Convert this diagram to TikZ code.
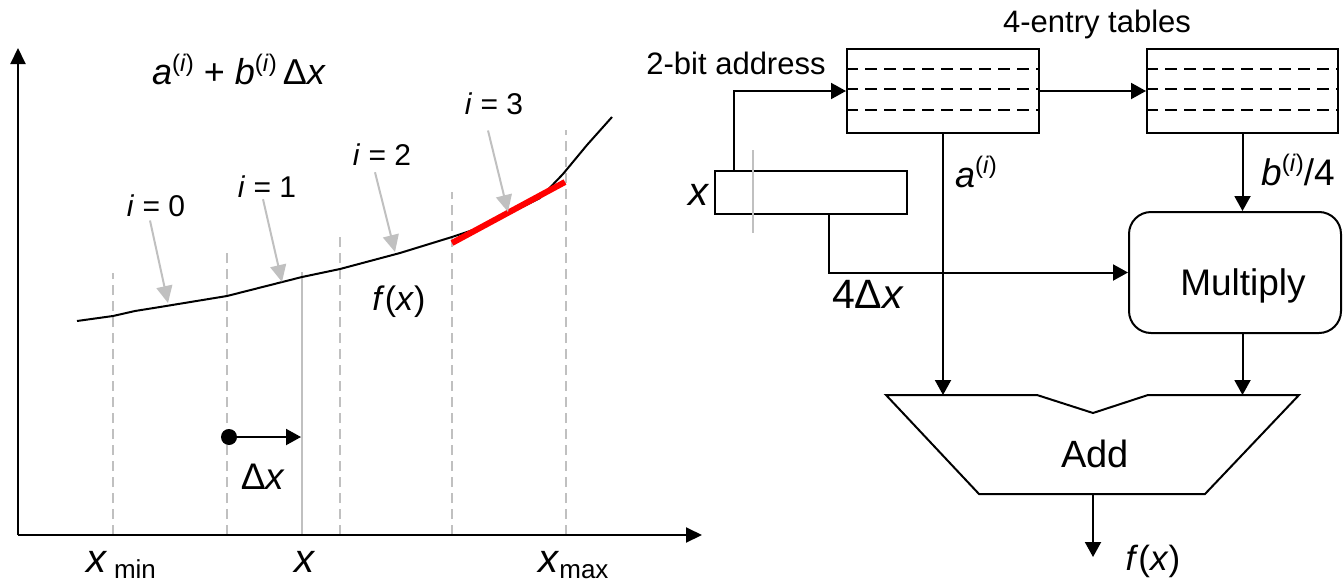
\documentclass[tikz,border=0pt]{standalone}
\usepackage{fontspec}
\setmainfont{Liberation Sans}
\usetikzlibrary{arrows.meta,calc}
\newcommand\fsz[1]{\fontsize{#1}{#1}\selectfont}
\newcommand\supi[2]{\raisebox{#1}{\fsz{#2}(\textit{i})}}
\definecolor{lgray}{RGB}{192,192,192}
\definecolor{myred}{RGB}{255,0,0}
\begin{document}
\begin{tikzpicture}[x=1pt,y=-1pt,
  ln/.style={line width=2pt},
  arr/.style={line width=2pt,-{Triangle[length=15pt,width=16pt]}},
  axarr/.style={line width=2pt,-{Triangle[length=16pt,width=15pt]}},
  garr/.style={line width=2pt,draw=lgray,-{Triangle[length=17pt,width=16pt,fill=lgray]}},
  gdash/.style={line width=2pt,draw=lgray,dash pattern=on 10pt off 6pt},
  tdash/.style={line width=2pt,dash pattern=on 12pt off 7pt},
  lbl/.style={inner sep=0pt,anchor=base},
  tbl/.style={draw,line width=2pt,minimum width=192pt,minimum height=84pt,inner sep=0pt},
  line join=miter]
\useasboundingbox (0,0) rectangle (1343,581);

% ---------------- left graph ----------------
\coordinate (orig) at (18,535);
\coordinate (ytip) at (18,48);
\coordinate (xtip) at (702,535);
% dashed verticals
\draw[gdash] (113,535) -- (113,273);
\draw[gdash] (227,535) -- (227,252);
\draw[gdash] (340,535) -- (340,232);
\draw[gdash] (452,535) -- (452,192);
\draw[gdash] (566,535) -- (566,130);
\draw[line width=2pt,draw=lgray] (302,535) -- (302,272);
% curve
\draw[line width=2pt,line join=round] (77,321) -- (113,316) -- (135,311) -- (160,307) -- (227,296) -- (302,277) -- (340,269) -- (400,253) -- (452,237) -- (485,226) -- (510,213) -- (540,198) -- (563,174) -- (587,145) -- (612,117);
\draw[line width=6pt,draw=myred] (452,243) -- (565,182);
% axes
\draw[axarr] (orig) -- (ytip);
\draw[axarr] (orig) -- (xtip);

\node[lbl] (formula) at (239,84) {\fsz{36}\textit{a}\supi{13pt}{24} + \textit{b}\supi{13pt}{24}\,Δ\textit{x}};

\node[lbl] (l0) at (156,216) {\fsz{30}\textit{i} = 0};
\node[lbl] (l1) at (267,197) {\fsz{30}\textit{i} = 1};
\node[lbl] (l2) at (382,165) {\fsz{30}\textit{i} = 2};
\node[lbl] (l3) at (494,114) {\fsz{30}\textit{i} = 3};
\coordinate (p0) at (168,303);
\coordinate (p1) at (282,282);
\coordinate (p2) at (395,252);
\coordinate (p3) at (508,212);
\draw[garr] ($(l0.south)+(-6,4)$) -- (p0);
\draw[garr] ($(l1.south)+(-4,2)$) -- (p1);
\draw[garr] ($(l2.south)+(-7,7)$) -- (p2);
\draw[garr] ($(l3.south)+(-6,16)$) -- (p3);

\node[lbl] (fxl) at (399,310) {\fsz{34}\textit{f}(\textit{x})};

\node[circle,fill,minimum size=16pt,inner sep=0pt] (dot) at (229,437) {};
\coordinate (dxend) at (301,437);
\draw[arr] (dot) -- (dxend);
\node[lbl] (dxl) at (263,489) {\fsz{37}Δ\textit{x}};

\node[lbl,anchor=base west] (xmin) at (86,572) {\fsz{40}\textit{x}\,\raisebox{-6pt}{\fsz{26}min}};
\node[lbl] (xl) at (305,572) {\fsz{40}\textit{x}};
\node[lbl,anchor=base west] (xmax) at (538,572) {\fsz{40}\textit{x}\raisebox{-6pt}{\fsz{26}max}};

% ---------------- right diagram ----------------
\node[tbl] (t1) at (943,91) {};
\node[tbl,minimum width=191pt] (t2) at (1242.5,91) {};
\foreach \t in {t1,t2}{
  \draw[tdash] ($(\t.north west)+(0,21)$) -- ($(\t.north east)+(0,21)$);
  \draw[tdash] ($(\t.north west)+(0,41)$) -- ($(\t.north east)+(0,41)$);
  \draw[tdash] ($(\t.north west)+(0,62)$) -- ($(\t.north east)+(0,62)$);
}
\node[lbl] (tabl) at (1097,32) {\fsz{31}4-entry tables};
\node[lbl] (addrl) at (736,74) {\fsz{31}2-bit address};

\node[draw,line width=2pt,minimum width=192pt,minimum height=43pt,inner sep=0pt] (reg) at (811,192.5) {};
\draw[line width=2pt,draw=lgray] (753,150) -- (753,233);
\node[lbl] (regl) at (699.5,205) {\fsz{40}\textit{x}};

\node[draw,line width=2pt,rounded corners=22pt,minimum width=212pt,minimum height=121pt,inner sep=0pt] (mul) at (1235,272.5) {};
\node[lbl] (mult) at (1243,295) {\fsz{37}Multiply};

\coordinate (addL) at (943,395);
\coordinate (addR) at (1242.5,395);
\coordinate (addB) at (1093,494);
\coordinate (fout) at (1093,557);
\draw[line width=2pt] (886,395) -- (1037,395) -- (1093,413) -- (1148,395) -- (1299,395) -- (1205,494) -- (979,494) -- cycle;
\node[lbl] (addt) at (1095,467) {\fsz{38}Add};

\draw[arr] ([xshift=-77pt]reg.north) |- (t1.west);
\draw[arr] (t1.east) -- (t2.west);
\draw[arr] ([xshift=18pt]reg.south) |- (mul.west);
\draw[arr] (t1.south) -- (addL);
\draw[arr] (t2.south) -- (t2.south |- mul.north);
\draw[arr] (mul.south -| t2.south) -- (addR);
\draw[arr] (addB) -- (fout);

\node[lbl] (al) at (976,187) {\fsz{36}\textit{a}\supi{14pt}{24}};
\node[lbl] (bl) at (1298,185) {\fsz{37}\textit{b}\supi{14pt}{24}/4};
\node[lbl] (dx4) at (868,308) {\fsz{41}4Δ\textit{x}};
\node[lbl] (fxo) at (1153,570) {\fsz{35}\textit{f}(\textit{x})};
\end{tikzpicture}
\end{document}
